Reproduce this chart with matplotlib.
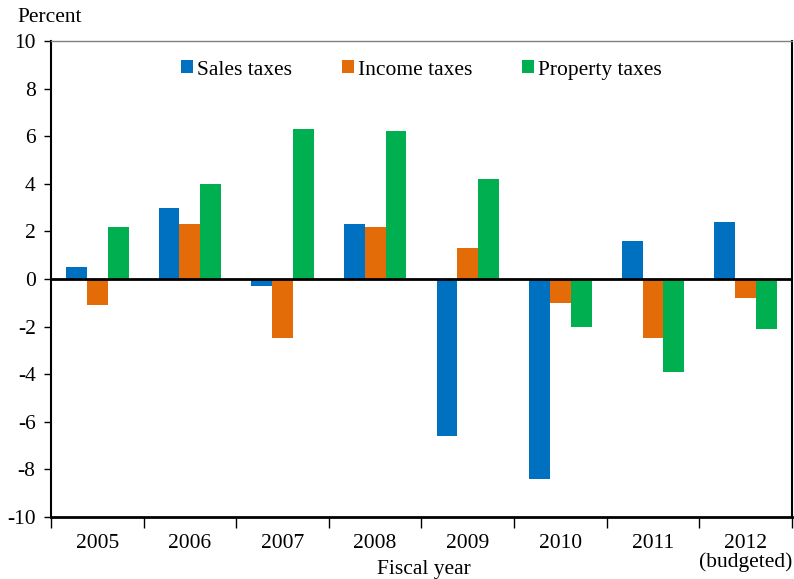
import matplotlib
matplotlib.use('Agg')
import matplotlib.pyplot as plt
import numpy as np

years = ['2005', '2006', '2007', '2008', '2009', '2010', '2011', '2012\n(budgeted)']
sales = [0.5, 3.0, -0.3, 2.3, -6.6, -8.4, 1.6, 2.4]
income = [-1.1, 2.3, -2.5, 2.2, 1.3, -1.0, -2.5, -0.8]
prop = [2.2, 4.0, 6.3, 6.2, 4.2, -2.0, -3.9, -2.1]

plt.rcParams['font.family'] = ['Liberation Serif', 'DejaVu Serif']
plt.rcParams['axes.unicode_minus'] = False

fig = plt.figure(figsize=(7.94, 5.79), dpi=100)
ax = fig.add_axes([0.0642, 0.1071, 0.9333, 0.8221])

x = np.arange(len(years))
w = 0.225
ax.bar(x - w, sales, w, color='#0070C0', label='Sales taxes')
ax.bar(x, income, w, color='#E36C09', label='Income taxes')
ax.bar(x + w, prop, w, color='#00B050', label='Property taxes')

ax.axhline(0, color='black', lw=2)
ax.set_xlim(-0.5, len(years) - 0.5)
ax.set_ylim(-10, 10)
ax.set_yticks(range(-10, 11, 2))
ax.set_xticks(x)
ax.set_xticklabels(years, va='top', linespacing=1.0)
ax.set_xticks(np.arange(-0.5, len(years), 1), minor=True)
ax.tick_params(axis='x', which='major', length=0, pad=12, labelsize=15.5)
ax.tick_params(axis='x', which='minor', length=8, width=1)
ax.tick_params(axis='y', length=5, width=1, labelsize=15.5, pad=6)

ax.spines['top'].set_color('#808080')
ax.spines['top'].set_linewidth(1)
ax.spines['left'].set_linewidth(1.5)
ax.spines['bottom'].set_linewidth(2)
ax.spines['right'].set_linewidth(1.5)

# axis titles placed by hand so the two-line 2012 label doesn't push them
fig.text(0.534, 0.017, 'Fiscal year', fontsize=15.5, ha='center', va='center')
fig.text(0.022, 0.962, 'Percent', fontsize=15.5)

ax.legend(loc='upper center', bbox_to_anchor=(0.5, 1.0), ncol=3, frameon=False,
          fontsize=15.5, handlelength=0.56, handleheight=0.56, handletextpad=0.2,
          columnspacing=2.3)

fig.savefig('out.png', dpi=100)
